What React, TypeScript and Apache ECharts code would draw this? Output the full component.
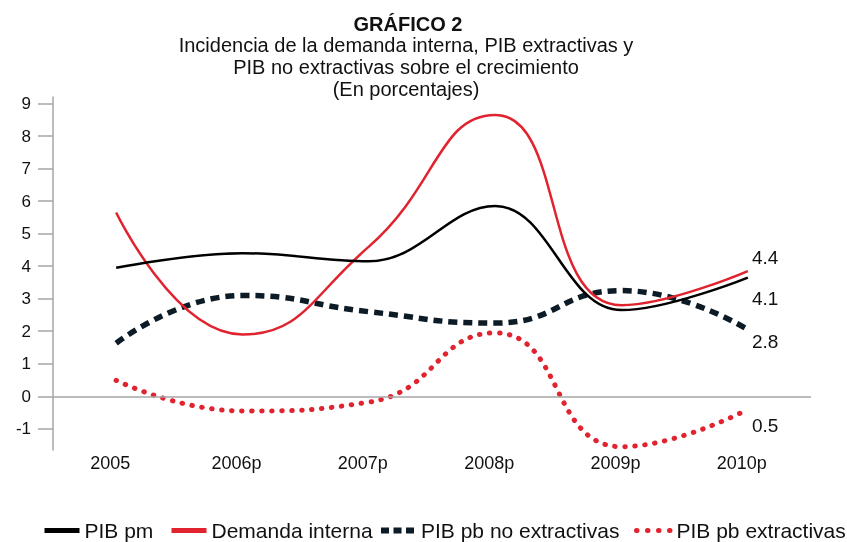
import React, { useEffect, useRef } from "react";
import * as echarts from "echarts";

const categories = ["2005", "2006p", "2007p", "2008p", "2009p", "2010p"];
const pibPm = [3.95, 4.4, 4.15, 5.85, 2.65, 3.65];
const demandaInterna = [5.65, 1.9, 4.6, 8.65, 2.8, 3.85];
const pibNoExtractivas = [1.63, 3.1, 2.6, 2.25, 3.25, 2.05];
const pibExtractivas = [0.49, -0.45, -0.18, 1.95, -1.55, -0.4];
const yTicks = [-1, 0, 1, 2, 3, 4, 5, 6, 7, 8, 9];
const endLabels = ["4.4", "4.1", "2.8", "0.5"];
const subtitleLines = [
  "Incidencia de la demanda interna, PIB extractivas y",
  "PIB no extractivas sobre el crecimiento",
  "(En porcentajes)",
];
const seriesNames = [
  "PIB pm",
  "Demanda interna",
  "PIB pb no extractivas",
  "PIB pb extractivas",
];

const BLACK = "#000000";
const RED = "#e0232e";
const NAVY = "#0c1b25";
const GRAY = "#a6a6a6";
const TEXT = "#111111";
const FONT = "'Liberation Sans', Arial, Helvetica, sans-serif";

export default function App() {
  const ref = useRef<HTMLDivElement>(null);
  useEffect(() => {
    if (!ref.current) return;
    const chart = echarts.init(ref.current, undefined, { renderer: "svg" });
    const labelYs = [257, 298, 341, 425];
    const subYs = [45, 67, 89];
    const legendLefts = [42, 169, 378, 634];
    const legendLineStyles = [
      { width: 5 },
      { width: 5 },
      { width: 6, type: [8, 4.5] },
      { width: 5, type: [0.5, 10.5] },
    ];
    chart.setOption({
      animation: false,
      textStyle: { fontFamily: FONT, color: TEXT },
      grid: { left: 53, right: 36, top: 97, bottom: 92 },
      graphic: [
        {
          type: "text",
          x: 408,
          y: 24,
          style: {
            text: "GRÁFICO 2",
            font: `bold 20px ${FONT}`,
            fill: TEXT,
            align: "center",
            verticalAlign: "middle",
          },
        },
        ...subtitleLines.map((t, i) => ({
          type: "text",
          x: 406,
          y: subYs[i],
          style: {
            text: t,
            font: `20px ${FONT}`,
            fill: TEXT,
            align: "center",
            verticalAlign: "middle",
          },
        })),
        ...endLabels.map((t, i) => ({
          type: "text",
          x: 752,
          y: labelYs[i],
          style: {
            text: t,
            font: `19px ${FONT}`,
            fill: TEXT,
            align: "left",
            verticalAlign: "middle",
          },
        })),
      ],
      legend: seriesNames.map((name, i) => ({
        left: legendLefts[i],
        top: 520,
        padding: 0,
        itemWidth: 35,
        itemHeight: 14,
        itemStyle: { opacity: 0 },
        textStyle: { fontSize: 21, color: TEXT, fontFamily: FONT },
        data: [{ name, lineStyle: legendLineStyles[i] }],
      })),
      xAxis: {
        type: "category",
        data: categories,
        boundaryGap: true,
        axisLine: { show: false },
        axisTick: { show: false },
        axisLabel: {
          color: TEXT,
          fontSize: 18,
          margin: 4,
          padding: [0, 12, 0, 0],
        },
      },
      yAxis: {
        type: "value",
        min: -1.65,
        max: 9.2,
        splitLine: { show: false },
        axisLine: { show: true, lineStyle: { color: GRAY, width: 1.5 } },
        axisTick: {
          show: true,
          length: 15,
          lineStyle: { color: GRAY, width: 1.5 },
          customValues: yTicks,
        },
        axisLabel: {
          color: TEXT,
          fontSize: 17,
          margin: 22,
          customValues: yTicks,
        },
      },
      series: [
        {
          name: seriesNames[0],
          type: "line",
          data: pibPm,
          smooth: 0.4,
          symbol: "none",
          lineStyle: { color: BLACK, width: 2.5 },
          itemStyle: { color: BLACK },
          z: 4,
          markLine: {
            silent: true,
            symbol: "none",
            label: { show: false },
            lineStyle: { color: GRAY, width: 1.5, type: "solid" },
            data: [{ yAxis: 0 }],
          },
        },
        {
          name: seriesNames[1],
          type: "line",
          data: demandaInterna,
          smooth: 0.5,
          symbol: "none",
          lineStyle: { color: RED, width: 2.5 },
          itemStyle: { color: RED },
          z: 3,
        },
        {
          name: seriesNames[2],
          type: "line",
          data: pibNoExtractivas,
          smooth: 0.5,
          symbol: "none",
          lineStyle: { color: NAVY, width: 5.5, type: [9, 6] },
          itemStyle: { color: NAVY },
          z: 2,
        },
        {
          name: seriesNames[3],
          type: "line",
          data: pibExtractivas,
          smooth: 0.5,
          symbol: "none",
          lineStyle: { color: RED, width: 5, type: [0.5, 9.5], cap: "round" },
          itemStyle: { color: RED },
          z: 2,
        },
      ],
    });
    return () => chart.dispose();
  }, []);
  return (
    <div
      ref={ref}
      style={{ position: "fixed", left: 0, top: 0, width: 847, height: 542 }}
    />
  );
}
